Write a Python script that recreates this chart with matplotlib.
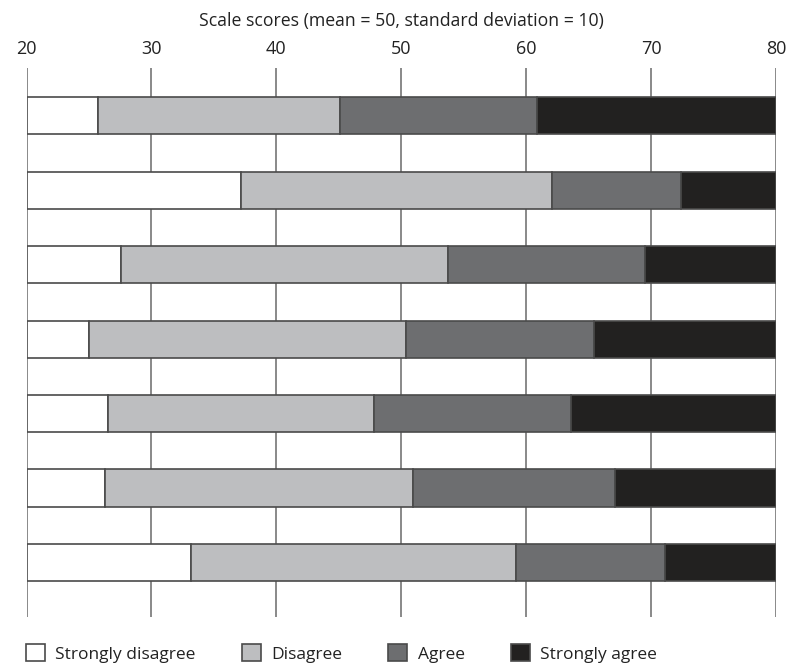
import matplotlib
matplotlib.use("Agg")
import matplotlib.pyplot as plt
import numpy as np

plt.rcParams["font.family"] = ["Open Sans", "DejaVu Sans"]

# seven scales, top to bottom; widths of each response segment (scale score units)
categories = ["1", "2", "3", "4", "5", "6", "7"]
strongly_disagree = [5.7, 17.2, 7.6, 5.0, 6.5, 6.3, 13.2]
disagree = [19.4, 24.9, 26.1, 25.4, 21.3, 24.6, 26.0]
agree = [15.8, 10.3, 15.8, 15.0, 15.8, 16.2, 11.9]
strongly_agree = [19.1, 7.6, 10.5, 14.6, 16.4, 12.9, 8.9]
series_names = ["Strongly disagree", "Disagree", "Agree", "Strongly agree"]
start = 20
xticks = [20, 30, 40, 50, 60, 70, 80]

colors = ["#ffffff", "#bdbec0", "#6d6e70", "#222120"]
edge = "#4a4a4a"

fig = plt.figure(figsize=(7.94, 6.67), dpi=100)
ax = fig.add_axes([0.0334, 0.075, 0.944, 0.823])

y = np.arange(len(categories))
left = np.full(len(categories), float(start))
for vals, name, c in zip([strongly_disagree, disagree, agree, strongly_agree],
                         series_names, colors):
    ax.barh(y, vals, left=left, height=0.5, color=c, edgecolor=edge,
            linewidth=1.2, label=name, zorder=2)
    left = left + np.array(vals)

ax.set_xlim(20, 80)
ax.set_ylim(6.73, -0.64)
ax.set_xticks(xticks)
ax.set_yticks([])
ax.xaxis.tick_top()
ax.xaxis.set_label_position("top")
ax.tick_params(axis="x", length=0, pad=7.5, labelsize=13, labelcolor="#222222")
ax.set_xlabel("Scale scores (mean = 50, standard deviation = 10)",
              fontsize=12.7, color="#222222", labelpad=10)
for s in ax.spines.values():
    s.set_visible(False)
for xv in xticks:
    ax.axvline(xv, color="#6a6a6a", linewidth=1.1, zorder=1)

handles, labels = ax.get_legend_handles_labels()
fig.legend(handles, labels, loc="lower left", bbox_to_anchor=(0.013, -0.017),
           ncol=4, frameon=False, fontsize=12.5, handlelength=1.1,
           handleheight=1.1, handletextpad=0.6, columnspacing=2.65,
           labelcolor="#222222")

fig.savefig("out.png", dpi=100, facecolor="white")
